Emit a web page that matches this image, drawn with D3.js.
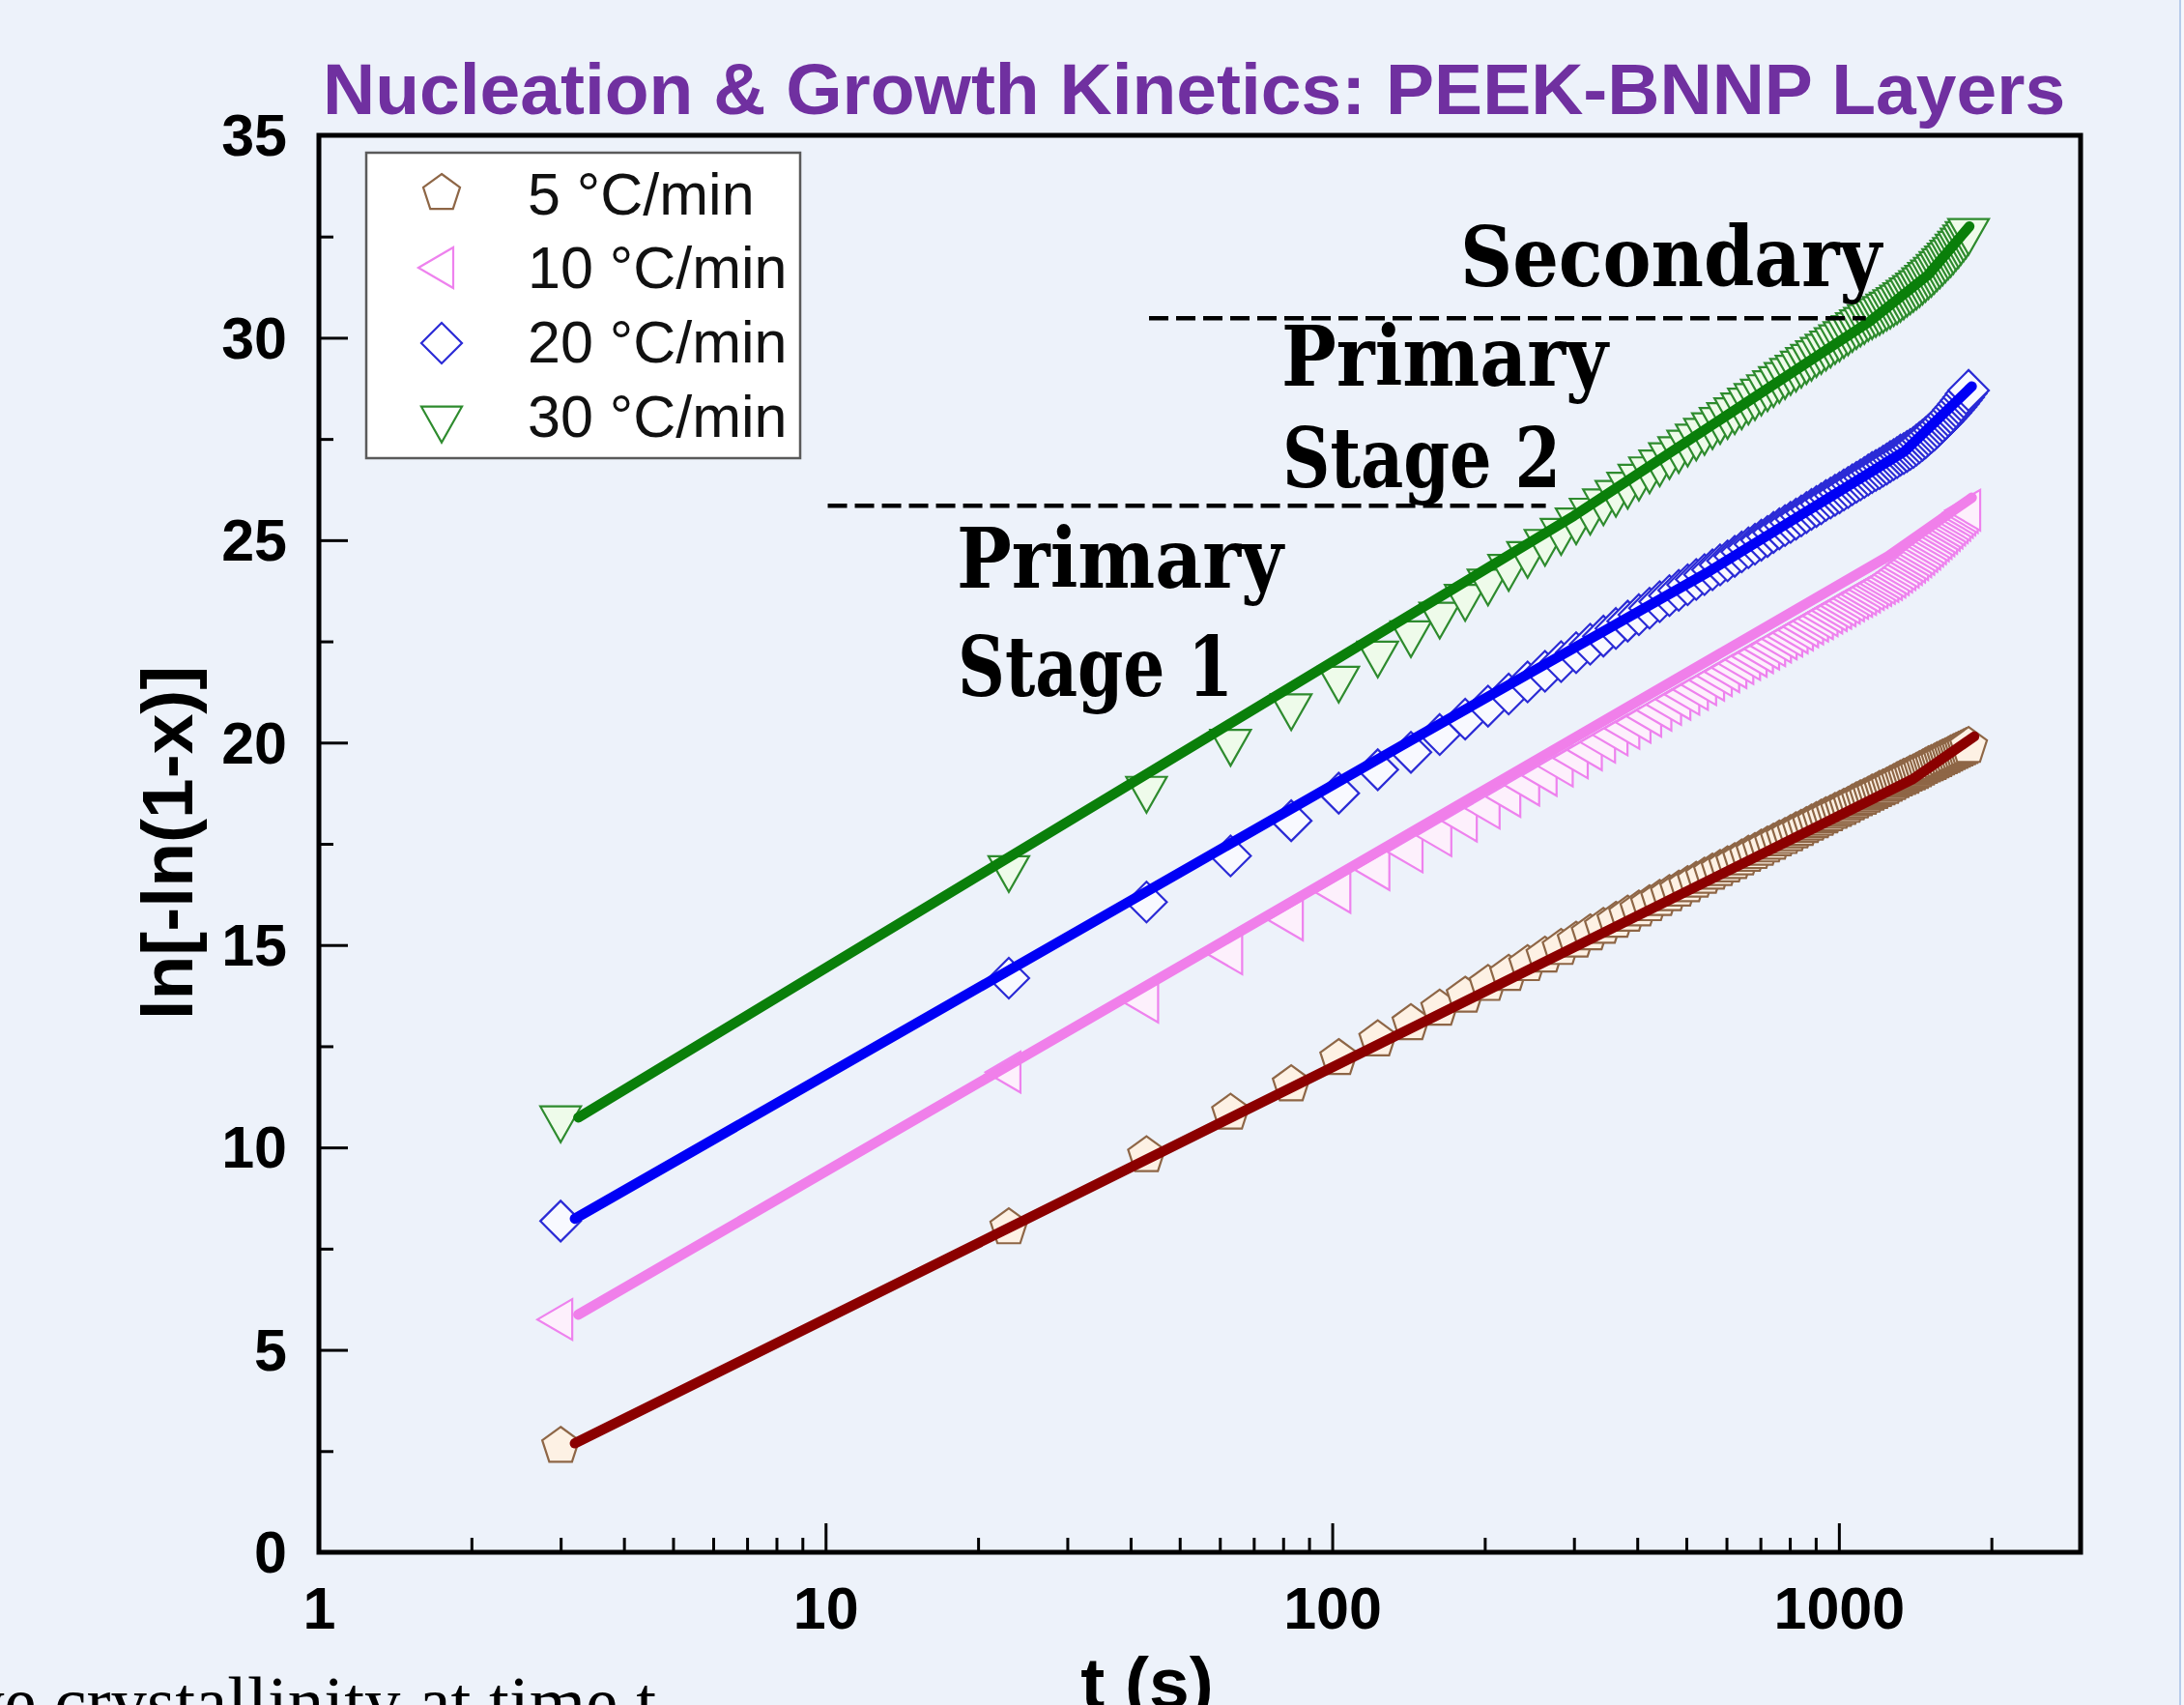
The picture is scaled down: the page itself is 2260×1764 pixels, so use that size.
<!DOCTYPE html>
<html>
<head>
<meta charset="utf-8">
<script src="https://cdn.jsdelivr.net/npm/d3@7"></script>
<style>
html,body{margin:0;padding:0;background:#EDF2FA;}
svg{display:block;}
</style>
</head>
<body>
<svg id="chart" width="2260" height="1764"></svg>
<script>
// ---------------- DATA ----------------
const times = [3,23,43,63,83,103,123,143,163,183,
  203,223,243,263,283,303,323,343,363,383,
  403,423,443,463,483,503,523,543,563,583,
  603,623,643,663,683,703,723,743,763,783,
  803,823,843,863,883,903,923,943,963,983,
  1003,1023,1043,1063,1083,1103,1123,1143,1163,1183,
  1203,1223,1243,1263,1283,1303,1323,1343,1363,1383,
  1403,1423,1443,1463,1483,1503,1523,1543,1563,1583,
  1603,1623,1643,1663,1683,1703,1723,1743,1763,1783,
  1803];

const rate5 = [2.62,8.02,9.80,10.85,11.55,12.20,12.66,13.06,13.42,13.74,
  14.03,14.28,14.52,14.73,14.92,15.10,15.28,15.44,15.59,15.74,
  15.87,16.00,16.13,16.25,16.36,16.47,16.58,16.68,16.78,16.87,
  16.96,17.04,17.13,17.22,17.29,17.37,17.45,17.52,17.60,17.66,
  17.73,17.80,17.86,17.93,17.99,18.05,18.11,18.17,18.22,18.28,
  18.33,18.38,18.43,18.49,18.54,18.59,18.63,18.68,18.73,18.77,
  18.82,18.86,18.90,18.95,18.99,19.04,19.08,19.12,19.15,19.20,
  19.23,19.27,19.31,19.35,19.39,19.43,19.46,19.49,19.53,19.56,
  19.60,19.63,19.66,19.70,19.73,19.76,19.79,19.82,19.85,19.88,
  19.91];

const rate10 = [5.75,11.86,13.59,14.78,15.62,16.30,16.86,17.30,17.70,18.06,
  18.38,18.67,18.95,19.19,19.42,19.62,19.82,20.01,20.19,20.35,
  20.50,20.65,20.80,20.94,21.07,21.19,21.31,21.43,21.54,21.65,
  21.75,21.85,21.95,22.05,22.13,22.22,22.31,22.39,22.48,22.56,
  22.63,22.71,22.78,22.86,22.93,23.00,23.06,23.13,23.20,23.26,
  23.32,23.38,23.44,23.50,23.56,23.61,23.66,23.72,23.78,23.83,
  23.88,23.93,23.98,24.03,24.09,24.15,24.21,24.27,24.33,24.40,
  24.46,24.52,24.59,24.65,24.72,24.78,24.85,24.91,24.98,25.04,
  25.11,25.17,25.24,25.30,25.37,25.43,25.49,25.56,25.62,25.68,
  25.74];

const rate20 = [8.18,14.18,16.06,17.20,18.07,18.75,19.33,19.76,20.20,20.58,
  20.90,21.20,21.50,21.76,22.00,22.22,22.43,22.63,22.82,23.00,
  23.16,23.32,23.48,23.63,23.76,23.90,24.03,24.15,24.27,24.39,
  24.49,24.60,24.71,24.81,24.90,25.00,25.09,25.19,25.28,25.36,
  25.44,25.52,25.60,25.68,25.76,25.83,25.90,25.98,26.04,26.11,
  26.17,26.24,26.30,26.37,26.43,26.49,26.55,26.61,26.67,26.72,
  26.77,26.83,26.88,26.94,26.99,27.04,27.10,27.14,27.19,27.24,
  27.29,27.35,27.41,27.47,27.53,27.60,27.66,27.72,27.79,27.86,
  27.93,28.00,28.07,28.14,28.22,28.29,28.37,28.45,28.53,28.62,
  28.70];

const rate30 = [10.72,16.90,18.86,20.02,20.90,21.58,22.20,22.70,23.16,23.60,
  23.98,24.34,24.66,24.96,25.23,25.49,25.73,25.96,26.17,26.37,
  26.57,26.75,26.92,27.10,27.25,27.41,27.56,27.70,27.84,27.97,
  28.09,28.21,28.33,28.45,28.56,28.67,28.78,28.88,28.98,29.08,
  29.18,29.26,29.36,29.45,29.53,29.62,29.70,29.78,29.86,29.94,
  30.01,30.09,30.16,30.24,30.31,30.38,30.44,30.51,30.56,30.61,
  30.66,30.71,30.77,30.82,30.88,30.93,30.99,31.05,31.11,31.17,
  31.23,31.29,31.35,31.42,31.48,31.55,31.61,31.68,31.75,31.82,
  31.89,31.96,32.03,32.10,32.17,32.25,32.32,32.40,32.48,32.56,
  32.64];

// fitted lines (knots)
const fit5T  = [3.2, 1400, 1850];
const fit5Y  = [2.69, 19.1, 20.15];
const fit10T = [3.25, 1250, 1830];
const fit10Y = [5.87, 24.6, 26.05];
const fit20T = [3.2, 136, 550, 1350, 1830];
const fit20Y = [8.24, 19.9, 24.2, 27.2, 28.8];
const fit30T = [3.25, 300, 1150, 1500, 1810];
const fit30Y = [10.74, 25.6, 30.4, 31.55, 32.75];

// stage separators
const sepT = [[10.1, 264], [43.5, 1130]];
const sepY = [25.85, 30.48];

const seriesNames = ["5 °C/min", "10 °C/min", "20 °C/min", "30 °C/min"];
const xMajor = [1, 10, 100, 1000];
const xMinor = [2,3,4,5,6,7,8,9,20,30,40,50,60,70,80,90,200,300,400,500,600,700,800,900,2000];
const yMajor = [0,5,10,15,20,25,30,35];
const yMinor = [2.5,7.5,12.5,17.5,22.5,27.5,32.5];

const titleText = "Nucleation & Growth Kinetics: PEEK-BNNP Layers";
const xTitle = "t (s)";
const yTitle = "ln[-ln(1-x)]";
const footText = "x is the relative crystallinity at time t";
const stageLabels = ["Secondary", "Primary", "Stage 2", "Primary", "Stage 1"];

// ---------------- LAYOUT / STYLE ----------------
const W = 2260, H = 1764;
const L = 330, R = 2153, T = 140, B = 1606;
const svg = d3.select("#chart");

svg.append("rect").attr("width", W).attr("height", H).attr("fill", "#EDF2FA");
svg.append("rect").attr("x", 2255).attr("y", 0).attr("width", 2).attr("height", H).attr("fill", "#B7CBEA");
svg.append("rect").attr("x", 2257).attr("y", 0).attr("width", 3).attr("height", H).attr("fill", "#F4F7FC");

const x = d3.scaleLog().domain([1, 3000]).range([L, R]);
const y = d3.scaleLinear().domain([0, 35]).range([B, T]);

const sansB = "'Liberation Sans', Arial, Helvetica, sans-serif";

// title
svg.append("text").attr("x", 334).attr("y", 118)
  .attr("font-family", sansB).attr("font-weight", "bold").attr("font-size", 75)
  .attr("fill", "#7030A0").text(titleText);

// footnote (cut off by page bottom, as in the source slide)
svg.append("text").attr("x", 679).attr("y", 1786).attr("text-anchor", "end")
  .attr("font-family", "'Liberation Serif', 'Times New Roman', serif").attr("font-size", 75)
  .attr("fill", "#000").text(footText);

// marker shapes
function pentagon(r) {
  const p = [];
  for (let i = 0; i < 5; i++) {
    const a = -Math.PI / 2 + i * 2 * Math.PI / 5;
    p.push([r * Math.cos(a), r * Math.sin(a)]);
  }
  return "M" + p.map(d => d[0].toFixed(2) + "," + d[1].toFixed(2)).join("L") + "Z";
}
const shapes = {
  pent: pentagon(20),
  tleft: "M-24,0L12,-21L12,21Z",
  diamond: "M0,-21L21,0L0,21L-21,0Z",
  tdown: "M-21,-12.3L21,-12.3L0,24.7Z"
};

const styles = [
  {shape: "pent",    mStroke: "#8E6646", mFill: "#FDF1E4", line: "#8B0000"},
  {shape: "tleft",   mStroke: "#EE82EE", mFill: "#FDF0FC", line: "#F07FEA"},
  {shape: "diamond", mStroke: "#2B2BD6", mFill: "#F8F9FF", line: "#0000F5"},
  {shape: "tdown",   mStroke: "#2E8B2E", mFill: "#EEFBEA", line: "#0A7F0A"}
];

const allValues = [rate5, rate10, rate20, rate30];
const fitsT = [fit5T, fit10T, fit20T, fit30T];
const fitsY = [fit5Y, fit10Y, fit20Y, fit30Y];

const plot = svg.append("g");
const lineGen = d3.line().x(d => x(d[0])).y(d => y(d[1]));

allValues.forEach((vals, si) => {
  const st = styles[si];
  const g = plot.append("g");
  g.selectAll("path.m").data(times.map((t, i) => [t, vals[i]])).join("path")
    .attr("class", "m")
    .attr("d", shapes[st.shape])
    .attr("transform", d => `translate(${x(d[0])},${y(d[1])})`)
    .attr("fill", st.mFill).attr("stroke", st.mStroke).attr("stroke-width", 2.2);
  g.append("path")
    .datum(fitsT[si].map((t, i) => [t, fitsY[si][i]]))
    .attr("d", lineGen)
    .attr("fill", "none").attr("stroke", st.line).attr("stroke-width", 10.5)
    .attr("stroke-linecap", "round").attr("stroke-linejoin", "round");
});

// dashed separators
sepT.forEach((ts, i) => {
  plot.append("line")
    .attr("x1", x(ts[0])).attr("x2", x(ts[1]))
    .attr("y1", y(sepY[i])).attr("y2", y(sepY[i]))
    .attr("stroke", "#000").attr("stroke-width", 4.5).attr("stroke-dasharray", "20,8");
});

// stage annotations
const annLayout = [
  {x: 1511, y: 296, w: 436},
  {x: 1326, y: 399, w: 338},
  {x: 1327, y: 504, w: 288},
  {x: 990,  y: 608, w: 338},
  {x: 991,  y: 720, w: 285}
];
stageLabels.forEach((s, i) => {
  const a = annLayout[i];
  svg.append("text").attr("x", a.x).attr("y", a.y)
    .attr("font-family", "'DejaVu Serif Condensed', 'DejaVu Serif', serif")
    .attr("font-weight", "bold").attr("font-size", 86)
    .attr("textLength", a.w).attr("lengthAdjust", "spacingAndGlyphs")
    .attr("fill", "#000").text(s);
});

// axes
const axB = svg.append("g").attr("transform", `translate(0,${B})`)
  .call(d3.axisBottom(x).tickValues(xMajor).tickSize(-30).tickSizeOuter(0).tickPadding(36)
    .tickFormat(d => String(d)));
const axBm = svg.append("g").attr("transform", `translate(0,${B})`)
  .call(d3.axisBottom(x).tickValues(xMinor).tickSize(-15).tickSizeOuter(0).tickFormat(""));
const axL = svg.append("g").attr("transform", `translate(${L},0)`)
  .call(d3.axisLeft(y).tickValues(yMajor).tickSize(-30).tickSizeOuter(0).tickPadding(33)
    .tickFormat(d => String(d)));
const axLm = svg.append("g").attr("transform", `translate(${L},0)`)
  .call(d3.axisLeft(y).tickValues(yMinor).tickSize(-15).tickSizeOuter(0).tickFormat(""));

[axB, axBm, axL, axLm].forEach(a => {
  a.select(".domain").remove();
  a.selectAll(".tick line").attr("stroke", "#000").attr("stroke-width", 3);
  a.selectAll(".tick text").attr("font-family", sansB).attr("font-weight", "bold")
    .attr("font-size", 61).attr("fill", "#000");
});
axL.selectAll(".tick text").attr("dy", "0.34em");

// frame
svg.append("rect").attr("x", L).attr("y", T).attr("width", R - L).attr("height", B - T)
  .attr("fill", "none").attr("stroke", "#000").attr("stroke-width", 5);

// axis titles
svg.append("text").attr("transform", "translate(199,872) rotate(-90)")
  .attr("text-anchor", "middle").attr("font-family", sansB).attr("font-weight", "bold")
  .attr("font-size", 75).attr("fill", "#000").text(yTitle);
svg.append("text").attr("x", 1187).attr("y", 1767).attr("text-anchor", "middle")
  .attr("font-family", sansB).attr("font-weight", "bold")
  .attr("font-size", 75).attr("fill", "#000").text(xTitle);

// legend
const leg = svg.append("g");
leg.append("rect").attr("x", 379).attr("y", 158).attr("width", 449).attr("height", 316)
  .attr("fill", "#FFFFFF").attr("stroke", "#5A5A5A").attr("stroke-width", 2.5);
const rowY = [200, 277, 355, 433];
const textY = [222, 298, 375, 452];
seriesNames.forEach((name, i) => {
  const st = styles[i];
  leg.append("path").attr("d", shapes[st.shape])
    .attr("transform", `translate(457,${rowY[i]})`)
    .attr("fill", "#FFFFFF").attr("stroke", st.mStroke).attr("stroke-width", 2.2);
  leg.append("text").attr("x", 546).attr("y", textY[i])
    .attr("font-family", "'Liberation Sans', Arial, sans-serif").attr("font-size", 61)
    .attr("fill", "#111").text(name);
});
</script>
</body>
</html>
